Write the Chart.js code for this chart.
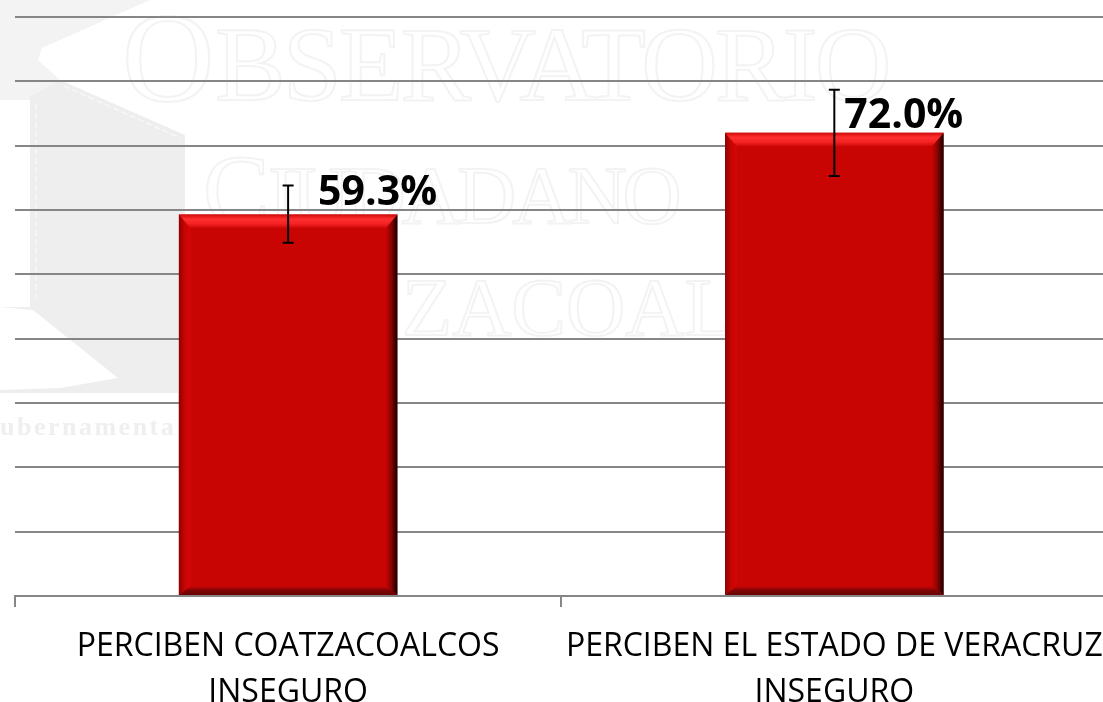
<!DOCTYPE html>
<html>
<head>
<meta charset="utf-8">
<script src="https://cdn.jsdelivr.net/npm/chart.js@4"></script>
<style>
  html, body { margin: 0; padding: 0; background: #fff; overflow: hidden; }
  canvas { display: block; }
</style>
</head>
<body>
<canvas id="graphChart" width="1123" height="702"></canvas>
<script>
const categories = [
  ['PERCIBEN COATZACOALCOS', 'INSEGURO'],
  ['PERCIBEN EL ESTADO DE VERACRUZ', 'INSEGURO']
];
const values = [59.3, 72.0];
const errorLow = [54.9, 65.3];
const errorHigh = [63.8, 78.7];
const valueLabels = ['59.3%', '72.0%'];

const barRed = '#c90504';

// logo and name printed pale behind the chart
const watermark = {
  id: 'watermark',
  beforeDraw: chart => {
    const c = chart.ctx;
    c.save();
    c.fillStyle = '#f3f3f3';
    c.beginPath();
    c.moveTo(0, 0); c.lineTo(150, 0); c.lineTo(42, 48); c.lineTo(38, 60); c.lineTo(60, 80);
    c.lineTo(30, 100); c.lineTo(0, 100);
    c.closePath();
    c.fill();
    c.fillStyle = '#eeeeee';
    c.beginPath();
    c.moveTo(60, 80); c.lineTo(185, 135); c.lineTo(185, 215); c.lineTo(178, 215); c.lineTo(178, 393);
    c.lineTo(0, 393); c.lineTo(0, 307); c.lineTo(30, 307); c.lineTo(30, 97);
    c.closePath();
    c.fill();
    c.fillStyle = '#fff';
    c.beginPath();
    c.moveTo(0, 307); c.lineTo(33, 310); c.lineTo(118, 378); c.lineTo(60, 388); c.lineTo(0, 390);
    c.closePath();
    c.fill();

    c.strokeStyle = '#f8f8f8';
    c.lineWidth = 1.5;
    c.setLineDash([6, 3]);
    c.beginPath();
    c.moveTo(64, 86); c.lineTo(180, 138);
    c.moveTo(36, 104); c.lineTo(36, 300);
    c.stroke();
    c.setLineDash([]);

    c.strokeStyle = '#f3f3f3';
    c.lineWidth = 2;
    c.textBaseline = 'alphabetic';
    c.font = '128px "Liberation Serif"';
    c.strokeText('O', 122, 101);
    c.font = '106px "Liberation Serif"';
    c.letterSpacing = '-3px';
    c.strokeText('BSERVATORIO', 215, 100);
    c.letterSpacing = '0px';
    c.font = '100px "Liberation Serif"';
    c.strokeText('C', 203, 223);
    c.font = '82px "Liberation Serif"';
    c.letterSpacing = '-4px';
    c.strokeText('IUDADANO', 268, 223);
    c.letterSpacing = '0px';
    c.strokeText('ZACOALCOS', 402, 335);

    c.fillStyle = '#efefef';
    c.font = 'bold 26px "Liberation Serif"';
    c.letterSpacing = '2.5px';
    c.fillText('ubernamenta', 0, 435);
    c.restore();
  }
};

// raised look of the bars: four lit or shaded edges on top of the flat fill
const bevel = {
  id: 'bevel',
  afterDatasetsDraw: chart => {
    const c = chart.ctx;
    chart.getDatasetMeta(0).data.forEach(bar => {
      const l = bar.x - bar.width / 2, r = bar.x + bar.width / 2;
      const t = bar.y, b = bar.base;
      const s = 12, st = 14, sb = 9;

      const edge = (pts, x0, y0, x1, y1, stops) => {
        const g = c.createLinearGradient(x0, y0, x1, y1);
        stops.forEach((col, i) => g.addColorStop(i / (stops.length - 1), col));
        c.fillStyle = g;
        c.beginPath();
        pts.forEach((p, i) => i ? c.lineTo(p[0], p[1]) : c.moveTo(p[0], p[1]));
        c.closePath();
        c.fill();
      };

      c.save();
      edge([[l, t], [l + s, t + st], [l + s, b - sb], [l, b]], l, 0, l + s, 0, ['#8a0303', '#c80504', '#d40606']);
      edge([[r, t], [r - s, t + st], [r - s, b - sb], [r, b]], r, 0, r - s, 0, ['#140000', '#860302', barRed]);
      edge([[l, t], [r, t], [r - s, t + st], [l + s, t + st]], 0, t, 0, t + st, ['#cf0b0a', '#ff2f2f', '#f42222', '#c90504']);
      edge([[l, b], [r, b], [r - s, b - sb], [l + s, b - sb]], 0, b, 0, b - sb, ['#6a0404', '#7e0505', barRed]);
      c.restore();
    });
  }
};

const errorBars = {
  id: 'errorBars',
  afterDatasetsDraw: chart => {
    const c = chart.ctx, y = chart.scales.y;
    c.save();
    c.strokeStyle = '#000';
    c.lineWidth = 2;
    chart.getDatasetMeta(0).data.forEach((bar, i) => {
      const top = y.getPixelForValue(errorHigh[i]), low = y.getPixelForValue(errorLow[i]);
      c.beginPath();
      c.moveTo(bar.x, top); c.lineTo(bar.x, low);
      c.moveTo(bar.x - 5.5, top); c.lineTo(bar.x + 5.5, top);
      c.moveTo(bar.x - 5.5, low); c.lineTo(bar.x + 5.5, low);
      c.stroke();
    });
    c.restore();
  }
};

const labelShift = [[30, -10], [10, -5]];
const valueText = {
  id: 'valueText',
  afterDraw: chart => {
    const c = chart.ctx;
    c.save();
    c.fillStyle = '#000';
    c.font = 'bold 41px "Open Sans"';
    c.textAlign = 'left';
    c.textBaseline = 'alphabetic';
    chart.getDatasetMeta(0).data.forEach((bar, i) => {
      c.fillText(valueLabels[i], bar.x + labelShift[i][0], bar.y + labelShift[i][1]);
    });
    c.restore();
  }
};

new Chart(document.getElementById('graphChart'), {
  type: 'bar',
  data: {
    labels: categories,
    datasets: [{
      data: values,
      backgroundColor: barRed,
      borderWidth: 0,
      barPercentage: 0.4,
      categoryPercentage: 1
    }]
  },
  options: {
    responsive: false,
    animation: false,
    layout: { autoPadding: false, padding: { left: 15, top: 17, right: 13, bottom: 0 } },
    plugins: { legend: { display: false }, tooltip: { enabled: false } },
    scales: {
      x: {
        afterFit: scale => { scale.height = 106; },
        border: { color: '#868686', width: 2 },
        grid: { drawOnChartArea: false, color: '#868686', lineWidth: 2, tickLength: 11 },
        ticks: {
          autoSkip: false,
          maxRotation: 0,
          minRotation: 0,
          color: '#000',
          padding: 17,
          font: { family: '"Open Sans"', size: 32, lineHeight: 1.44 }
        }
      },
      y: {
        min: 0,
        max: 90,
        border: { display: false },
        grid: { color: '#868686', lineWidth: 2, drawTicks: false },
        ticks: { display: false, stepSize: 10 }
      }
    }
  },
  plugins: [watermark, bevel, errorBars, valueText]
});
</script>
</body>
</html>
